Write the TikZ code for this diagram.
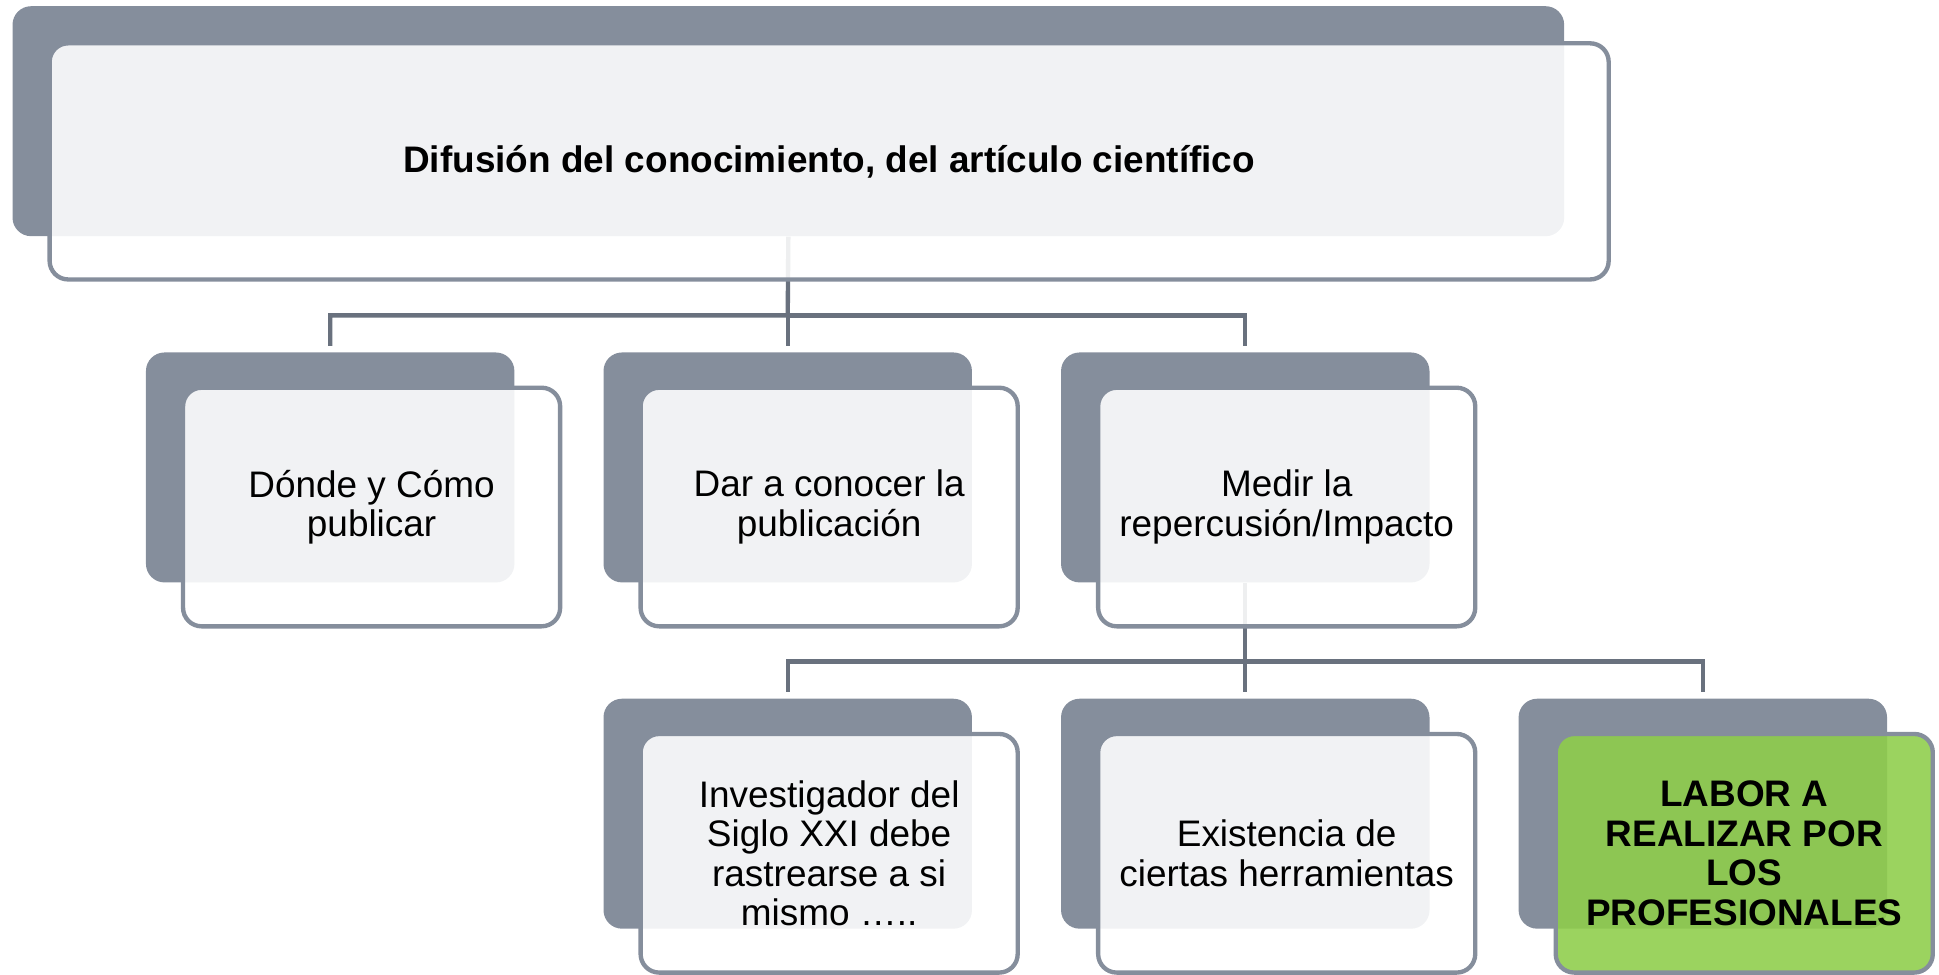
\documentclass[tikz,border=0pt]{standalone}
\usepackage{fontspec}
\setmainfont{Liberation Sans}
\usepackage{tikz}
\usetikzlibrary{positioning}
\pgfdeclarelayer{background}
\pgfdeclarelayer{foreground}
\pgfsetlayers{background,main,foreground}
\definecolor{grisfondo}{RGB}{133,142,156}
\definecolor{grislinea}{RGB}{105,113,126}
\definecolor{verde}{RGB}{143,206,75}
\tikzstyle{fondo}=[rectangle, rounded corners=3mm, fill=grisfondo, inner sep=0pt, minimum width=59.6mm, minimum height=37.2mm]
\tikzstyle{frente}=[rectangle, rounded corners=3mm, draw=grisfondo, line width=2pt, fill=white, fill opacity=0.89, text opacity=1, align=center, minimum width=61mm, minimum height=38.6mm, font=\fontsize{17}{18.2}\selectfont]
\tikzstyle{frenteverde}=[frente, fill=verde, font=\fontsize{17}{18.2}\selectfont\bfseries]
\tikzstyle{linea}=[draw=grislinea, line width=2pt]
\newcommand{\tarjeta}[5]{
 \begin{pgfonlayer}{background}
  \node[fondo] (#1-b) at (#2) {};
 \end{pgfonlayer}
 \begin{pgfonlayer}{foreground}
  \node[#4] (#1-f) at (#3) {#5};
 \end{pgfonlayer}}

\begin{document}
\begin{tikzpicture}[x=0.02cm, y=-0.02cm]

\useasboundingbox (0,0) rectangle (1568,788);

% nivel superior
\begin{pgfonlayer}{background}
\node[fondo, minimum width=251mm] (top-b) at (637.5,98) {};
\end{pgfonlayer}
\begin{pgfonlayer}{foreground}
\node[frente, minimum width=252.2mm, minimum height=38.2mm, font=\fontsize{17}{18.2}\selectfont\bfseries] (top-f) at (670.5,130.5) {Difusión del conocimiento, del artículo científico};
\end{pgfonlayer}

% segundo nivel
\tarjeta{d1}{267,378}{300.5,410}{frente}{Dónde y Cómo\\publicar}
\tarjeta{d2}{637,378}{670.5,410}{frente}{Dar a conocer la\\publicación}
\tarjeta{d3}{1007,378}{1040.5,410}{frente}{Medir la\\repercusión/Impacto}

% tercer nivel
\tarjeta{e1}{637,658}{670.5,690}{frente}{Investigador del\\Siglo XXI debe\\rastrearse a si\\mismo …..}
\tarjeta{e2}{1007,658}{1040.5,690}{frente}{Existencia de\\ciertas herramientas}
\tarjeta{e3}{1377,658}{1410.5,690}{frenteverde}{LABOR A\\REALIZAR POR\\LOS\\PROFESIONALES}

\coordinate (bus1) at (637,255);
\coordinate (bus2) at (1007,535);

\draw[linea, shorten >=1mm] (top-b.south) -- (bus1) -| (d1-b.north);
\draw[linea, shorten >=1mm] (bus1) -| (d3-b.north);
\draw[linea, shorten >=1mm] (bus1) -- (d2-b.north);

\draw[linea, shorten >=1mm] (d3-b.south) -- (bus2) -| (e1-b.north);
\draw[linea, shorten >=1mm] (bus2) -| (e3-b.north);
\draw[linea, shorten >=1mm] (bus2) -- (e2-b.north);

\end{tikzpicture}
\end{document}
